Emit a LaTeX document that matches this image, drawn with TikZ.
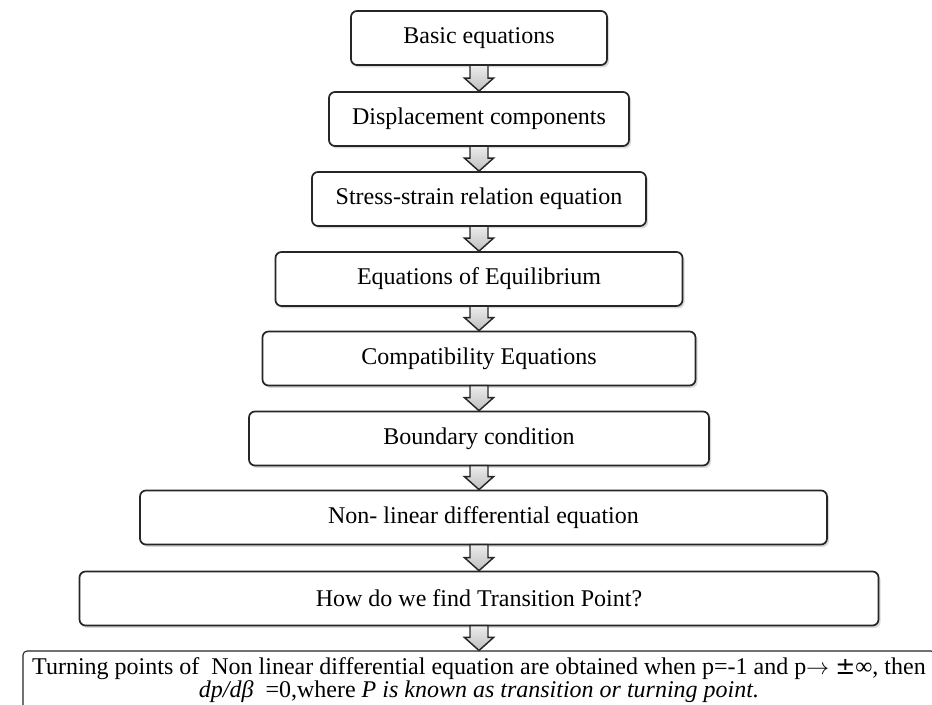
\documentclass[tikz,border=0pt]{standalone}
\usepackage{fontspec}
\setmainfont{Liberation Serif}
\newfontfamily\dejavu{DejaVu Sans}
\usetikzlibrary{shadows,calc}
\tikzset{
  box/.style={draw=black!85, line width=1.3pt, rounded corners=4.5pt, fill=white,
    align=center, font=\fontsize{18}{21}\selectfont, inner sep=0pt, minimum height=40.5pt,
    drop shadow={opacity=0.3, shadow xshift=1.5pt, shadow yshift=-1.8pt}},
  lastbox/.style={draw=black!85, line width=0.8pt, rounded corners=3pt, fill=white,
    align=center, font=\fontsize{18}{16.5}\selectfont, inner sep=0pt},
  blockarr/.style={draw=black!85, line width=1.1pt, line join=miter,
    top color=gray!15, bottom color=gray!50},
}
\newcommand{\flowarrow}[2]{%
  \path[blockarr] let \p1=(#1.south), \p2=(#2.north), \p3=(axis) in
   (\x3-6.75pt,\y1+0.6pt) -- (\x3+6.75pt,\y1+0.6pt) -- (\x3+6.75pt,\y2+9.75pt)
   -- (\x3+10.9pt,\y2+9.75pt) -- (\x3,\y2) -- (\x3-10.9pt,\y2+9.75pt)
   -- (\x3-6.75pt,\y2+9.75pt) -- cycle;}
\begin{document}
\begin{tikzpicture}[x=0.75pt,y=-0.75pt]
\useasboundingbox (0,0) rectangle (932,704);
\clip (0,0) rectangle (932,704);
\coordinate (axis) at (479,0);
\node[box, minimum width=192pt]    (b1) at (479,38)    {Basic equations};
\node[box, minimum width=225pt]    (b2) at (479,119)   {Displacement components};
\node[box, minimum width=250.5pt]  (b3) at (479,199)   {Stress-strain relation equation};
\node[box, minimum width=305.25pt] (b4) at (479,279)   {Equations of Equilibrium};
\node[box, minimum width=324.75pt] (b5) at (479,358.5) {Compatibility Equations};
\node[box, minimum width=345pt]    (b6) at (479,438.5) {Boundary condition};
\node[box, minimum width=515.25pt] (b7) at (483.5,517.5) {Non- linear differential equation};
\node[box, minimum width=599.25pt] (b8) at (479,598.5) {How do we find Transition Point?};
\node[lastbox, minimum width=684pt, minimum height=43.5pt] (b9) at (479,680)
  {Turning points of\ \ Non linear differential equation are obtained when p=-1 and p$\rightarrow$ {\dejavu ±}∞, then\\
   \textit{dp/dβ}\ \ =0,where \textit{P is known as transition or turning point.}};
\flowarrow{b1}{b2}
\flowarrow{b2}{b3}
\flowarrow{b3}{b4}
\flowarrow{b4}{b5}
\flowarrow{b5}{b6}
\flowarrow{b6}{b7}
\flowarrow{b7}{b8}
\flowarrow{b8}{b9}
\end{tikzpicture}
\end{document}
